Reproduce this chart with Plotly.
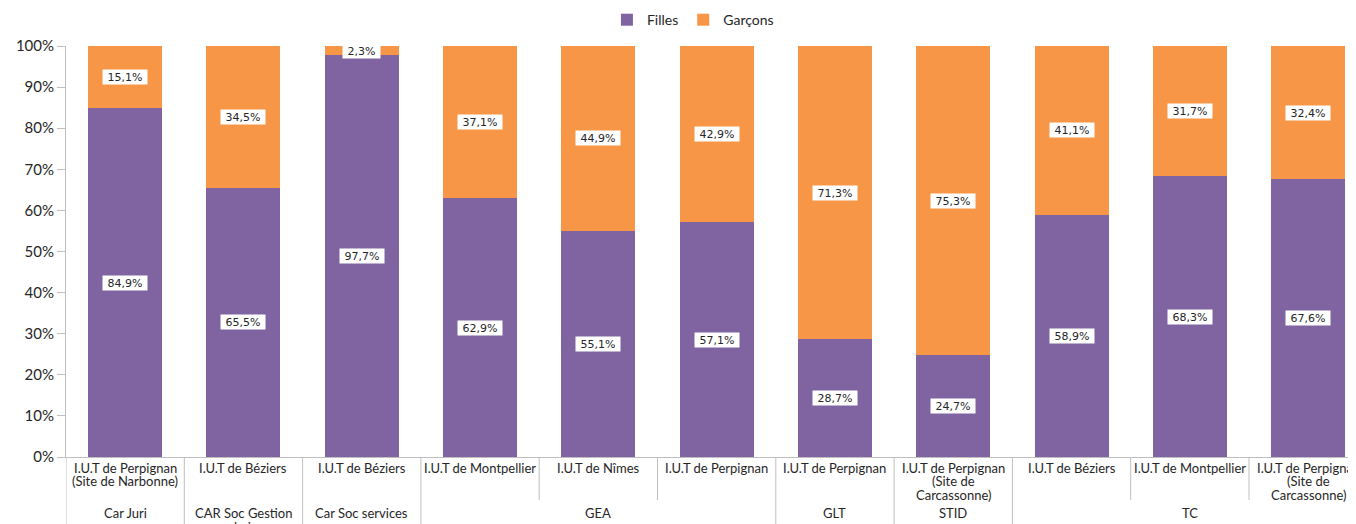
import plotly.graph_objects as go

sites = ["I.U.T de Perpignan<br>(Site de Narbonne)", "I.U.T de Béziers", "I.U.T de Béziers",
         "I.U.T de Montpellier", "I.U.T de Nîmes", "I.U.T de Perpignan",
         "I.U.T de Perpignan", "I.U.T de Perpignan<br>(Site de<br>Carcassonne)",
         "I.U.T de Béziers", "I.U.T de Montpellier", "I.U.T de Perpignan<br>(Site de<br>Carcassonne)"]
groups = ["Car Juri", "CAR Soc Gestion<br>urbaine", "Car Soc services", "GEA", "GLT", "STID", "TC"]
group_sizes = [1, 1, 1, 3, 1, 1, 3]
filles = [84.9, 65.5, 97.7, 62.9, 55.1, 57.1, 28.7, 24.7, 58.9, 68.3, 67.6]
garcons = [15.1, 34.5, 2.3, 37.1, 44.9, 42.9, 71.3, 75.3, 41.1, 31.7, 32.4]
ytick_vals = [0, 10, 20, 30, 40, 50, 60, 70, 80, 90, 100]
ytick_text = [f"{v}%" for v in ytick_vals]

PURPLE = "#8064A2"
ORANGE = "#F79646"
AXIS = "#BFBFBF"
FONT = "Lato"
TXT = "#262626"

xs = list(range(len(filles)))

fig = go.Figure()
fig.add_trace(go.Bar(x=xs, y=filles, name="Filles", marker_color=PURPLE, width=0.625,
                     marker_line_width=0))
fig.add_trace(go.Bar(x=xs, y=garcons, name="Garçons", marker_color=ORANGE, width=0.625,
                     marker_line_width=0))

ann = []
def fmt(v):
    return f"{v:.1f}%".replace(".", ",")

for i, (f, g) in enumerate(zip(filles, garcons)):
    for val, center in ((f, f / 2), (g, f + g / 2)):
        t = fmt(val)
        ann.append(dict(x=i, y=center, xref="x", yref="y", text=t, showarrow=False,
                        font=dict(family="DejaVu Sans", size=11, color=TXT),
                        bgcolor="white", borderpad=0, width=7 * len(t) + 9, height=14))

PH = 411.0
LINE = 13.5

def add_label(x, text, first_offset):
    for j, line in enumerate(text.split("<br>")):
        ann.append(dict(x=x, y=-(first_offset + LINE * j) / PH, xref="x", yref="paper",
                        text=line, showarrow=False, yanchor="middle",
                        font=dict(family=FONT, size=13, color=TXT)))

# category labels
for i, s in enumerate(sites):
    add_label(i, s, 10.5)

shapes = []
inner_bottom = -(43 / PH)
outer_bottom = -(70 / PH)
start = 0
boundaries_outer = {-0.5}
for gname, n in zip(groups, group_sizes):
    center = start + (n - 1) / 2
    add_label(center, gname, 56.5)
    start += n
    boundaries_outer.add(start - 0.5)

for k in range(len(filles) + 1):
    b = k - 0.5
    y1 = outer_bottom if b in boundaries_outer else inner_bottom
    shapes.append(dict(type="line", xref="x", yref="paper", x0=b, x1=b, y0=0, y1=y1,
                       line=dict(color=AXIS, width=1)))

fig.update_layout(
    barmode="stack",
    width=1348, height=516,
    margin=dict(l=58, r=0, t=38, b=67, autoexpand=False),
    plot_bgcolor="white", paper_bgcolor="white",
    font=dict(family=FONT, size=13, color=TXT),
    showlegend=True,
    legend=dict(orientation="h", x=0.486, xanchor="center", y=1.063, yanchor="middle",
                font=dict(family=FONT, size=14, color=TXT), traceorder="normal",
                itemwidth=30),
    annotations=ann,
    shapes=shapes,
)
fig.update_xaxes(range=[-0.5, -0.5 + 1290 / 118.3], showticklabels=False, showgrid=False,
                 zeroline=False, showline=True, linecolor=AXIS, linewidth=1, ticks="",
                 automargin=False)
fig.update_yaxes(range=[0, 100], tickvals=ytick_vals, ticktext=ytick_text, showgrid=False,
                 zeroline=False, showline=True, linecolor=AXIS, linewidth=1, ticks="outside",
                 ticklen=8, tickcolor=AXIS, automargin=False,
                 tickfont=dict(family=FONT, size=15, color=TXT))

fig.write_html("out.html")
